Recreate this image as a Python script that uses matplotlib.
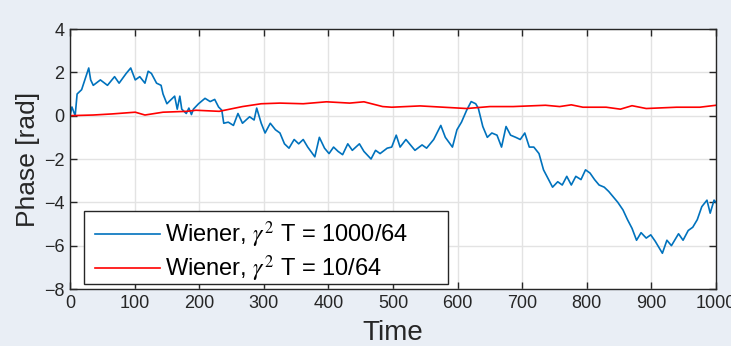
import numpy as np
import matplotlib.pyplot as plt
from matplotlib.patches import Rectangle

# ---- data ----
blue_t = [0, 3, 8, 11, 18, 29, 32, 36, 47, 58, 69, 76, 87, 94, 101, 108, 116, 121,
          126, 134, 141, 144, 150, 155, 162, 166, 170, 173, 180, 184, 188, 191, 199,
          209, 217, 224, 230, 235, 238, 245, 253, 260, 267, 278, 285, 289, 296, 302,
          310, 318, 325, 332, 339, 347, 354, 361, 368, 379, 386, 394, 401, 408, 415,
          422, 430, 437, 448, 455, 466, 473, 480, 491, 498, 505, 511, 520, 527, 534,
          545, 552, 563, 574, 581, 592, 599, 606, 614, 621, 628, 632, 639, 646, 653,
          661, 668, 675, 682, 690, 697, 704, 711, 718, 726, 733, 740, 747, 755, 762,
          769, 776, 783, 791, 798, 805, 812, 819, 827, 834, 841, 848, 856, 863, 870,
          877, 884, 892, 899, 906, 917, 924, 931, 942, 949, 957, 964, 971, 978, 986,
          991, 997, 1000]
blue_phase = [0.0, 0.4, 0.0, 1.0, 1.2, 2.2, 1.65, 1.4, 1.65, 1.4, 1.8, 1.5, 1.95, 2.2,
              1.65, 1.8, 1.5, 2.05, 1.95, 1.5, 1.4, 1.0, 0.55, 0.7, 0.9, 0.3, 0.9, 0.3,
              0.1, 0.35, 0.05, 0.3, 0.55, 0.8, 0.65, 0.75, 0.4, 0.25, -0.35, -0.3,
              -0.45, 0.1, -0.35, -0.05, -0.2, 0.35, -0.35, -0.8, -0.35, -0.65, -0.8,
              -1.3, -1.5, -1.1, -1.3, -1.1, -1.45, -1.9, -1.0, -1.5, -1.75, -1.45,
              -1.65, -1.8, -1.3, -1.6, -1.3, -1.65, -2.0, -1.6, -1.75, -1.5, -1.45,
              -0.9, -1.45, -1.1, -1.35, -1.6, -1.35, -1.5, -1.1, -0.45, -1.0, -1.45,
              -0.65, -0.3, 0.25, 0.65, 0.55, 0.35, -0.5, -1.0, -0.8, -0.9, -1.45, -0.5,
              -0.9, -1.0, -1.1, -0.8, -1.45, -1.45, -1.75, -2.5, -2.9, -3.3, -3.05,
              -3.2, -2.8, -3.2, -2.8, -2.95, -2.5, -2.65, -2.95, -3.2, -3.3, -3.5,
              -3.75, -4.0, -4.35, -4.8, -5.2, -5.75, -5.4, -5.65, -5.5, -5.8, -6.35,
              -5.75, -6.0, -5.45, -5.75, -5.3, -5.15, -4.8, -4.2, -3.9, -4.5, -3.9,
              -4.0]

red_t = [0, 36, 65, 101, 116, 144, 181, 195, 231, 267, 296, 325, 361, 397, 433, 455,
         484, 498, 542, 578, 614, 650, 686, 736, 758, 776, 794, 830, 852, 870, 892,
         939, 975, 1000]
red_phase = [0.0, 0.03, 0.08, 0.16, 0.03, 0.16, 0.2, 0.25, 0.2, 0.42, 0.55, 0.58,
             0.55, 0.64, 0.58, 0.64, 0.42, 0.39, 0.45, 0.39, 0.33, 0.42, 0.42, 0.48,
             0.42, 0.5, 0.39, 0.39, 0.3, 0.46, 0.33, 0.39, 0.39, 0.48]

labels = [r"Wiener, $\gamma^2$ T = 1000/64", r"Wiener, $\gamma^2$ T = 10/64"]
# --------------------------------------

plt.rcParams["font.family"] = ["Liberation Sans", "DejaVu Sans"]
plt.rcParams["mathtext.fontset"] = "stix"

bg = "#e9eef5"
ink = "#262626"

fig = plt.figure(figsize=(7.31, 3.46), dpi=100, facecolor=bg)
ax = fig.add_axes([70 / 731, 1 - 289 / 346, 646 / 731, 260 / 346])

ax.plot(blue_t, blue_phase, color="#0072bd", lw=1.2, label=labels[0])
ax.plot(red_t, red_phase, color="#ff0000", lw=1.2, label=labels[1])

ax.set_xlim(0, 1000)
ax.set_ylim(-8, 4)
ax.set_xticks(np.arange(0, 1001, 100))
ax.set_yticks(np.arange(-8, 5, 2))
ax.grid(True, color="#e3e3e3", lw=1.0)
ax.set_axisbelow(True)

ax.tick_params(direction="in", length=5, width=1, top=True, right=True,
               labelsize=13, colors=ink, pad=4)
for sp in ax.spines.values():
    sp.set_color(ink)
    sp.set_linewidth(1.0)

ax.set_xlabel("Time", fontsize=20, color=ink, labelpad=6)
ax.set_ylabel("Phase [rad]", fontsize=19, color=ink, labelpad=3)

# legend box is wider than its contents, as in the MATLAB original
box = Rectangle((14 / 646, 5 / 260), 364 / 646, 73 / 260, transform=ax.transAxes,
                facecolor="white", edgecolor=ink, lw=1.0, zorder=4)
ax.add_patch(box)
leg = ax.legend(loc="lower left", bbox_to_anchor=(19 / 646, -1 / 260), fontsize=17,
                frameon=False, handlelength=2.75, borderpad=0.25,
                labelspacing=0.15, handletextpad=0.2, borderaxespad=0)
leg.set_zorder(5)

fig.savefig("out.png", dpi=100, facecolor=bg)
